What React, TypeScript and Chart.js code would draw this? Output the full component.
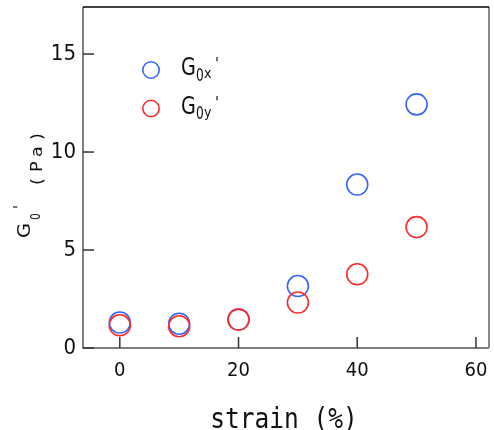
import React, { useEffect, useRef } from "react";
import { Chart, registerables } from "chart.js";
Chart.register(...registerables);

// ---- data ----
const strain = [0, 10, 20, 30, 40, 50];
const g0x = [1.3, 1.24, 1.45, 3.16, 8.34, 12.43];
const g0y = [1.16, 1.11, 1.45, 2.32, 3.76, 6.17];
const xTicks = [0, 20, 40, 60];
const yTicks = [0, 5, 10, 15];
const seriesSubs = ["x", "y"];
const seriesColors = ["#3366ff", "#ff2a2a"];
const xTitle = "strain (%)";
const yTitleUnit = ["(", "P", "a", ")"];

const COND = '"DejaVu Sans Condensed", "DejaVu Sans", sans-serif';
const MONO = '"DejaVu Sans Mono", "Liberation Mono", monospace';

function drawScaled(
  ctx: CanvasRenderingContext2D,
  text: string,
  x: number,
  y: number,
  font: string,
  sx: number,
  sy: number = 1
) {
  ctx.save();
  ctx.translate(x, y);
  ctx.scale(sx, sy);
  ctx.font = font;
  ctx.fillText(text, 0, 0);
  ctx.restore();
}

const decorPlugin = {
  id: "decor",
  afterDraw(chart: any) {
    const ctx: CanvasRenderingContext2D = chart.ctx;
    const { left, right, top, bottom } = chart.chartArea;
    const xs = chart.scales.x;
    const ys = chart.scales.y;
    ctx.save();
    // frame
    ctx.lineWidth = 1.5;
    ctx.strokeStyle = "#555";
    ctx.beginPath();
    ctx.moveTo(left, top);
    ctx.lineTo(left, bottom);
    ctx.lineTo(right, bottom);
    ctx.stroke();
    ctx.strokeStyle = "#8a8a8a";
    ctx.lineWidth = 2;
    ctx.beginPath();
    ctx.moveTo(right, bottom);
    ctx.lineTo(right, top);
    ctx.stroke();
    ctx.strokeStyle = "#000";
    ctx.lineWidth = 1.5;
    ctx.beginPath();
    ctx.moveTo(left, top);
    ctx.lineTo(right, top);
    ctx.stroke();
    // inner ticks
    ctx.strokeStyle = "#333";
    ctx.lineWidth = 1.5;
    xTicks.forEach((v) => {
      const px = xs.getPixelForValue(v);
      ctx.beginPath();
      ctx.moveTo(px, bottom);
      ctx.lineTo(px, bottom - 11);
      ctx.stroke();
    });
    yTicks.forEach((v) => {
      const py = ys.getPixelForValue(v);
      ctx.beginPath();
      ctx.moveTo(left, py);
      ctx.lineTo(left + 11, py);
      ctx.stroke();
    });
    ctx.fillStyle = "#111";
    ctx.textBaseline = "alphabetic";
    // x title
    ctx.textAlign = "center";
    drawScaled(ctx, xTitle, (left + right) / 2 - 2, 428, `25px ${MONO}`, 0.98, 1.1);
    // y title (rotated)
    ctx.textAlign = "left";
    ctx.save();
    ctx.rotate(-Math.PI / 2);
    drawScaled(ctx, "G", -238, 30, `18px ${COND}`, 1.2);
    drawScaled(ctx, "0", -220, 40, `14px ${COND}`, 0.85);
    ctx.textBaseline = "top";
    drawScaled(ctx, "'", -209, 13, `16px ${COND}`, 1);
    ctx.textBaseline = "alphabetic";
    const unitPos = [-185, -172, -157, -140];
    yTitleUnit.forEach((ch, i) => {
      drawScaled(ctx, ch, unitPos[i], 41.5, `15px ${COND}`, 1.3);
    });
    ctx.restore();
    // legend
    seriesSubs.forEach((s, i) => {
      const cy = 70 + i * 38.5;
      ctx.strokeStyle = seriesColors[i];
      ctx.lineWidth = 1.6;
      ctx.beginPath();
      ctx.arc(151, cy, 8.2, 0, Math.PI * 2);
      ctx.stroke();
      ctx.fillStyle = "#111";
      ctx.textAlign = "left";
      ctx.textBaseline = "alphabetic";
      drawScaled(ctx, "G", 181, cy + 5, `25px ${COND}`, 0.85);
      drawScaled(ctx, "0", 196, cy + 10.7, `17px ${COND}`, 0.8);
      drawScaled(ctx, s, 204, cy + 8.3, `14px ${COND}`, 1);
      ctx.textBaseline = "top";
      drawScaled(ctx, "'", 215, cy - 13, `16px ${COND}`, 1);
    });
    ctx.restore();
  },
};

export default function App() {
  const ref = useRef<HTMLCanvasElement | null>(null);
  useEffect(() => {
    document.body.style.margin = "0";
    const canvas = ref.current!;
    const zeroPad = (s: any) => {
      s.paddingTop = 0;
      s.paddingBottom = 0;
      s.paddingLeft = 0;
      s.paddingRight = 0;
    };
    const chart = new Chart(canvas, {
      type: "scatter",
      data: {
        datasets: [
          {
            label: "G0x'",
            data: strain.map((x, i) => ({ x, y: g0x[i] })),
            borderColor: seriesColors[0],
            backgroundColor: "rgba(0,0,0,0)",
            pointRadius: 10.5,
            pointHoverRadius: 10.5,
            borderWidth: 1.6,
            order: 1,
          },
          {
            label: "G0y'",
            data: strain.map((x, i) => ({ x, y: g0y[i] })),
            borderColor: seriesColors[1],
            backgroundColor: "rgba(0,0,0,0)",
            pointRadius: 10.5,
            pointHoverRadius: 10.5,
            borderWidth: 1.6,
            order: 0,
          },
        ],
      },
      options: {
        responsive: false,
        animation: false,
        devicePixelRatio: 1,
        layout: {
          autoPadding: false,
          padding: { top: 7, right: 5, left: 0, bottom: 0 },
        },
        plugins: { legend: { display: false }, tooltip: { enabled: false } },
        events: [],
        scales: {
          x: {
            type: "linear",
            min: -6.2,
            max: 62.2,
            afterFit: (s: any) => {
              s.height = 82;
              zeroPad(s);
            },
            afterBuildTicks: (s: any) => {
              s.ticks = xTicks.map((v) => ({ value: v }));
            },
            grid: { display: false, drawTicks: false },
            border: { display: false },
            ticks: {
              padding: 0,
              color: "#111",
              maxRotation: 0,
              font: { family: COND, size: 20, lineHeight: "46px" },
            },
          },
          y: {
            type: "linear",
            min: 0,
            max: 17.4,
            afterFit: (s: any) => {
              s.width = 83;
              zeroPad(s);
            },
            afterBuildTicks: (s: any) => {
              s.ticks = yTicks.map((v) => ({ value: v }));
            },
            grid: { display: false, drawTicks: false },
            border: { display: false },
            ticks: {
              padding: 7,
              color: "#111",
              font: { family: COND, size: 22, lineHeight: "10px" },
            },
          },
        },
      },
      plugins: [decorPlugin],
    } as any);
    return () => chart.destroy();
  }, []);
  return (
    <div style={{ width: 494, height: 430 }}>
      <canvas ref={ref} width={494} height={430} style={{ display: "block" }} />
    </div>
  );
}
